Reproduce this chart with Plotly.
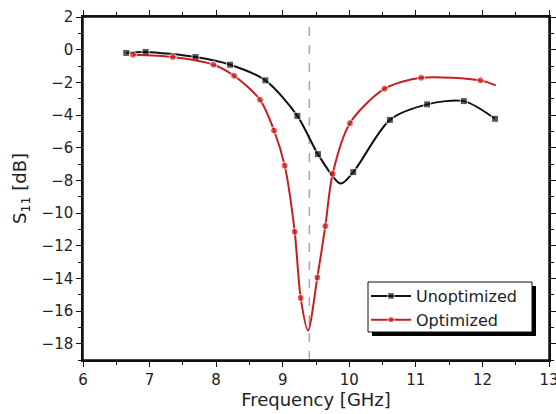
import plotly.graph_objects as go

# Data
unopt_freq = [6.65, 6.94, 7.69, 8.21, 8.74, 9.22, 9.53, 9.87, 10.06, 10.61, 11.17, 11.72, 12.19]
unopt_s11 = [-0.2, -0.14, -0.45, -0.92, -1.88, -4.05, -6.4, -8.2, -7.5, -4.3, -3.35, -3.15, -4.23]
unopt_marked = [1, 1, 1, 1, 1, 1, 1, 0, 1, 1, 1, 1, 1]

opt_freq = [6.75, 7.35, 7.96, 8.27, 8.66, 8.87, 9.03, 9.18, 9.27, 9.38, 9.52, 9.64, 9.75, 10.01, 10.53, 11.08, 11.97, 12.2]
opt_s11 = [-0.31, -0.45, -0.92, -1.6, -3.07, -4.95, -7.1, -11.15, -15.2, -17.2, -13.95, -10.8, -7.6, -4.5, -2.39, -1.72, -1.88, -2.19]
opt_marked = [1, 1, 1, 1, 1, 1, 1, 1, 1, 0, 1, 1, 1, 1, 1, 1, 1, 0]

resonance_freq = 9.4
x_range = [6, 13]
y_range = [-19, 2]

FONT = "DejaVu Sans, Arial, sans-serif"
BLACK = "#111111"
RED = "#c81e1e"
TXT = "#222222"

fig = go.Figure()
fig.add_trace(go.Scatter(
    x=unopt_freq, y=unopt_s11, name="Unoptimized", mode="lines+markers",
    line=dict(color=BLACK, width=2, shape="spline", smoothing=0.8),
    marker=dict(symbol="square", color=BLACK, size=[7 * m for m in unopt_marked]),
))
fig.add_trace(go.Scatter(
    x=opt_freq, y=opt_s11, name="Optimized", mode="lines+markers",
    line=dict(color=RED, width=2, shape="spline", smoothing=0.8),
    marker=dict(symbol="circle", color=RED, size=[7 * m for m in opt_marked]),
))

# dashed resonance line
fig.add_shape(type="line", xref="x", yref="y", x0=resonance_freq, x1=resonance_freq,
              y0=y_range[0], y1=y_range[1], line=dict(color="#aaaaaa", width=1.5, dash="dash"),
              layer="below")

# plot frame
fig.add_shape(type="rect", xref="paper", yref="paper", x0=0, x1=1, y0=0, y1=1,
              line=dict(color=BLACK, width=1.5), fillcolor="rgba(0,0,0,0)", layer="above")

# plot area in pixels
L, T, W, H = 83, 17, 466, 343
def px(xp):
    return (xp - L) / W
def py(yp):
    return (T + H - yp) / H

# legend frame with drop shadow
fig.add_shape(type="rect", xref="paper", yref="paper",
              x0=px(372), x1=px(536), y0=py(336), y1=py(286),
              fillcolor="black", line=dict(width=0), layer="above")
fig.add_shape(type="rect", xref="paper", yref="paper",
              x0=px(368), x1=px(532), y0=py(332), y1=py(282),
              fillcolor="white", line=dict(color=BLACK, width=1), layer="above")

axis_common = dict(showgrid=False, zeroline=False, showline=True, linecolor=BLACK, linewidth=1.5,
                   tickcolor=BLACK, tickwidth=1.2, ticklabeloverflow="allow", mirror="ticks",
                   tickfont=dict(family=FONT, size=15, color=TXT))

fig.update_layout(
    width=556, height=414,
    margin=dict(l=L, r=556 - L - W, t=T, b=414 - T - H, pad=0, autoexpand=False),
    paper_bgcolor="white", plot_bgcolor="white",
    font=dict(family=FONT, color=TXT),
    showlegend=True,
    legend=dict(x=px(366), y=py(279), xanchor="left", yanchor="top",
                bgcolor="rgba(0,0,0,0)", borderwidth=0,
                font=dict(family=FONT, size=16, color=TXT),
                itemwidth=40, tracegroupgap=0),
    xaxis=dict(range=x_range, dtick=1, ticks="outside", ticklen=5,
               minor=dict(dtick=0.5, ticks="outside", ticklen=3, tickcolor=BLACK),
               title=dict(text="Frequency [GHz]", font=dict(family=FONT, size=18, color=TXT), standoff=4),
               **axis_common),
    yaxis=dict(range=y_range, dtick=2, ticks="outside", ticklen=5,
               minor=dict(dtick=1, ticks="outside", ticklen=3, tickcolor=BLACK),
               title=dict(text="S<sub>11</sub> [dB]", font=dict(family=FONT, size=18, color=TXT), standoff=10),
               **axis_common),
)

fig.write_html("out.html", config={"displayModeBar": False},
               post_script="document.body.style.margin='0';")
